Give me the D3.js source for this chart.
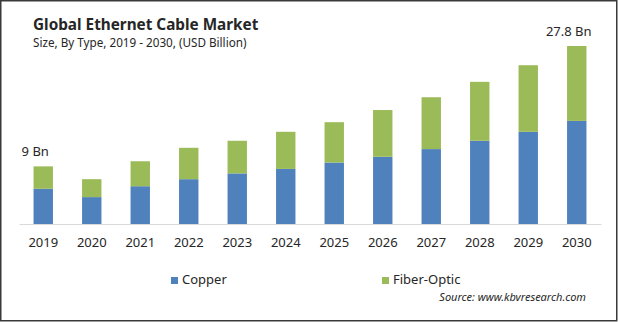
<!DOCTYPE html>
<html>
<head>
<meta charset="utf-8">
<script src="https://cdn.jsdelivr.net/npm/d3@7"></script>
<style>
  body { margin: 0; background: #fff; }
  svg text { font-family: "Noto Sans", "Open Sans", sans-serif; fill: #262626; }
</style>
</head>
<body>
<div id="chart"></div>
<script>
// chart data
const years = ['2019', '2020', '2021', '2022', '2023', '2024', '2025', '2026', '2027', '2028', '2029', '2030'];
const copper = [5.5, 4.2, 5.9, 7.0, 7.9, 8.6, 9.6, 10.5, 11.7, 13.0, 14.4, 16.1];
const fiberOptic = [3.5, 2.8, 3.9, 4.9, 5.1, 5.8, 6.3, 7.3, 8.1, 9.2, 10.4, 11.7];
const seriesNames = ['Copper', 'Fiber-Optic'];
const endLabels = [{ year: '2019', text: '9 Bn' }, { year: '2030', text: '27.8 Bn' }];

const colors = ['#4f81bd', '#9bbb59'];

const width = 620;
const height = 322;

const svg = d3.select('#chart').append('svg')
  .attr('width', width)
  .attr('height', height);

// outer frame
svg.append('rect')
  .attr('x', 0.75).attr('y', 0.75)
  .attr('width', 616).attr('height', 320)
  .attr('fill', '#fff')
  .attr('stroke', '#3a3a3a')
  .attr('stroke-width', 1.5);

// titles
svg.append('text')
  .attr('x', 33).attr('y', 30)
  .attr('font-size', 15.3)
  .attr('font-weight', 'bold')
  .text('Global Ethernet Cable Market');

svg.append('text')
  .attr('x', 33).attr('y', 47)
  .attr('font-size', 11.7)
  .text('Size, By Type, 2019 - 2030, (USD Billion)');

const x = d3.scaleBand()
  .domain(years)
  .range([19, 601])
  .paddingInner(0.6)
  .paddingOuter(0.3);

const y = d3.scaleLinear()
  .domain([0, 27.8])
  .range([224, 46]);

const rows = years.map((yr, i) => ({ year: yr, Copper: copper[i], 'Fiber-Optic': fiberOptic[i] }));
const stacked = d3.stack().keys(seriesNames)(rows);

svg.append('g')
  .selectAll('g')
  .data(stacked)
  .join('g')
  .attr('fill', (d, i) => colors[i])
  .selectAll('rect')
  .data(d => d)
  .join('rect')
  .attr('x', d => x(d.data.year))
  .attr('y', d => y(d[1]))
  .attr('width', x.bandwidth())
  .attr('height', d => y(d[0]) - y(d[1]));

// x axis
const xAxis = d3.axisBottom(x).tickSize(0).tickPadding(14);
const gx = svg.append('g')
  .attr('transform', 'translate(0,' + y(0) + ')')
  .call(xAxis);
gx.select('.domain').attr('stroke', '#d9d9d9');
gx.selectAll('text')
  .attr('font-size', 13)
  .attr('fill', '#262626')
  .attr('font-family', '"Noto Sans", sans-serif');

// value labels on first and last bar
const totals = years.map((yr, i) => copper[i] + fiberOptic[i]);
svg.append('g')
  .selectAll('text')
  .data(endLabels)
  .join('text')
  .attr('x', d => x(d.year) + x.bandwidth() / 2 - 8)
  .attr('y', d => y(totals[years.indexOf(d.year)]) - 10)
  .attr('text-anchor', 'middle')
  .attr('font-size', 13)
  .text(d => d.text);

// legend
const legendX = [171, 382];
const legend = svg.append('g')
  .selectAll('g')
  .data(seriesNames)
  .join('g')
  .attr('transform', (d, i) => 'translate(' + legendX[i] + ',277)');
legend.append('rect')
  .attr('width', 7).attr('height', 7)
  .attr('fill', (d, i) => colors[i]);
legend.append('text')
  .attr('x', 11).attr('y', 7)
  .attr('font-size', 13)
  .text(d => d);

// source
svg.append('text')
  .attr('x', 586).attr('y', 301)
  .attr('text-anchor', 'end')
  .attr('font-size', 11)
  .attr('font-style', 'italic')
  .text('Source: www.kbvresearch.com');
</script>
</body>
</html>
